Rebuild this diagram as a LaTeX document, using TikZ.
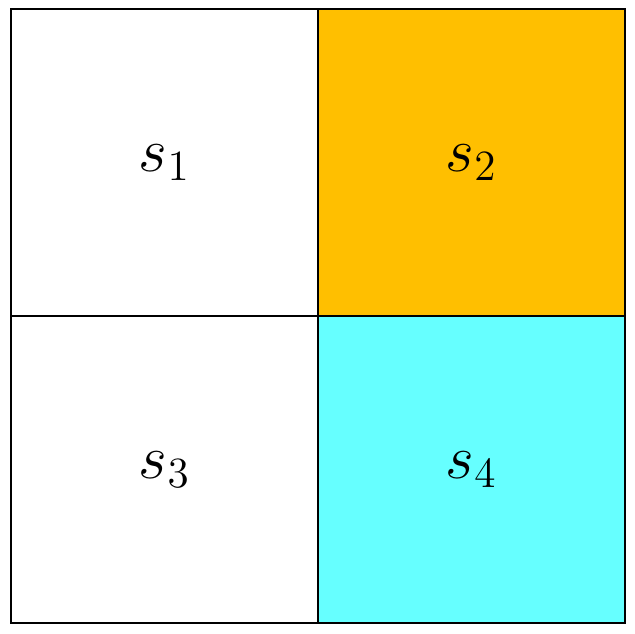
\documentclass[tikz,border=0pt]{standalone}
\definecolor{amberc}{HTML}{FFBF00}
\definecolor{cyanc}{HTML}{66FFFF}
\begin{document}
\begin{tikzpicture}[cell/.style={draw=black,line width=0.6pt,minimum size=3cm,inner sep=0pt,anchor=south west,font=\LARGE}]
\useasboundingbox (-0.1,-0.1) rectangle (6.1,6.1);
\node[cell] (s1) at (0,3) {$s_1$};
\node[cell,fill=amberc] (s2) at (3,3) {$s_2$};
\node[cell] (s3) at (0,0) {$s_3$};
\node[cell,fill=cyanc] (s4) at (3,0) {$s_4$};
\end{tikzpicture}
\end{document}
